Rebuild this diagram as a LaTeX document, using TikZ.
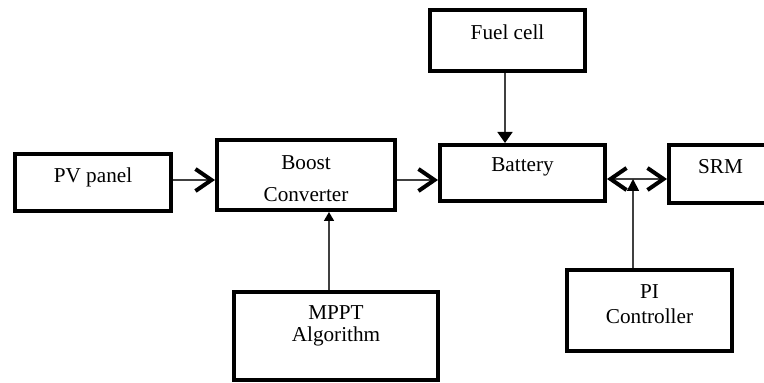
\documentclass[tikz,border=0pt]{standalone}
\usepackage{fontspec}
\setmainfont{Liberation Serif}
\usetikzlibrary{arrows.meta}
\begin{document}
\begin{tikzpicture}[x=0.5pt,y=-0.5pt,
    >={Straight Barb[length=8pt,width=11pt,line width=2pt,color=black]},
    box/.style={draw, line width=2pt, inner sep=0pt},
    txt/.style={font=\fontsize{10.6}{12.5}\selectfont, align=center},
    flow/.style={draw=black!75, line width=0.8pt},
    sig/.style={draw=black!75, line width=0.8pt}]
  \clip (0,0) rectangle (764,383);
  \node[box, minimum width=78pt, minimum height=28.5pt,
    label={[txt,yshift=2.5pt]center:PV panel}] (pv) at (93,182.5) {};
  \node[box, minimum width=89pt, minimum height=35pt,
    label={[txt,yshift=-1.75pt,font=\fontsize{10.6}{16}\selectfont]center:Boost\\Converter}] (boost) at (306,175) {};
  \node[box, minimum width=82.5pt, minimum height=28pt,
    label={[txt,yshift=3pt]center:Battery}] (battery) at (522.5,173) {};
  \node[box, minimum width=77.5pt, minimum height=30.5pt,
    label={[txt,yshift=4.25pt]center:Fuel cell}] (fuel) at (507.5,40.5) {};
  \node[box, minimum width=51.5pt, minimum height=29pt,
    label={[txt,yshift=3.5pt]center:SRM}] (srm) at (720.5,174) {};
  \node[box, minimum width=102pt, minimum height=44pt,
    label={[txt,yshift=5pt,font=\fontsize{10.6}{11}\selectfont]center:MPPT\\Algorithm}] (mppt) at (336,336) {};
  \node[box, minimum width=82.5pt, minimum height=40.5pt,
    label={[txt,yshift=3pt]center:PI\\Controller}] (pi) at (649.5,310.5) {};
  \coordinate (bus) at ([yshift=-3pt]battery.east);
  \begin{scope}[->]
    \draw[flow] ([yshift=1.25pt]pv.east) to ([yshift=1.25pt]pv.east -| boost.west);
    \draw[flow] ([yshift=-2.5pt]boost.east) to ([yshift=-2.5pt]boost.east -| battery.west);
    \draw[flow, <->] (bus) to (bus -| srm.west);
  \end{scope}
  \draw[sig, -{Triangle[length=5.5pt,width=7.5pt,color=black]}]
    ([xshift=-1.25pt]fuel.south) to ([xshift=-1.25pt]fuel.south |- battery.north);
  \draw[sig, -{Triangle[length=4.5pt,width=5pt,color=black]}]
    ([xshift=-3.5pt]mppt.north) to ([xshift=-3.5pt]mppt.north |- boost.south);
  \draw[sig, -{Triangle[length=6pt,width=6pt,color=black]}]
    ([xshift=-8.25pt]pi.north) to ([xshift=-8.25pt]pi.north |- bus);
\end{tikzpicture}
\end{document}
